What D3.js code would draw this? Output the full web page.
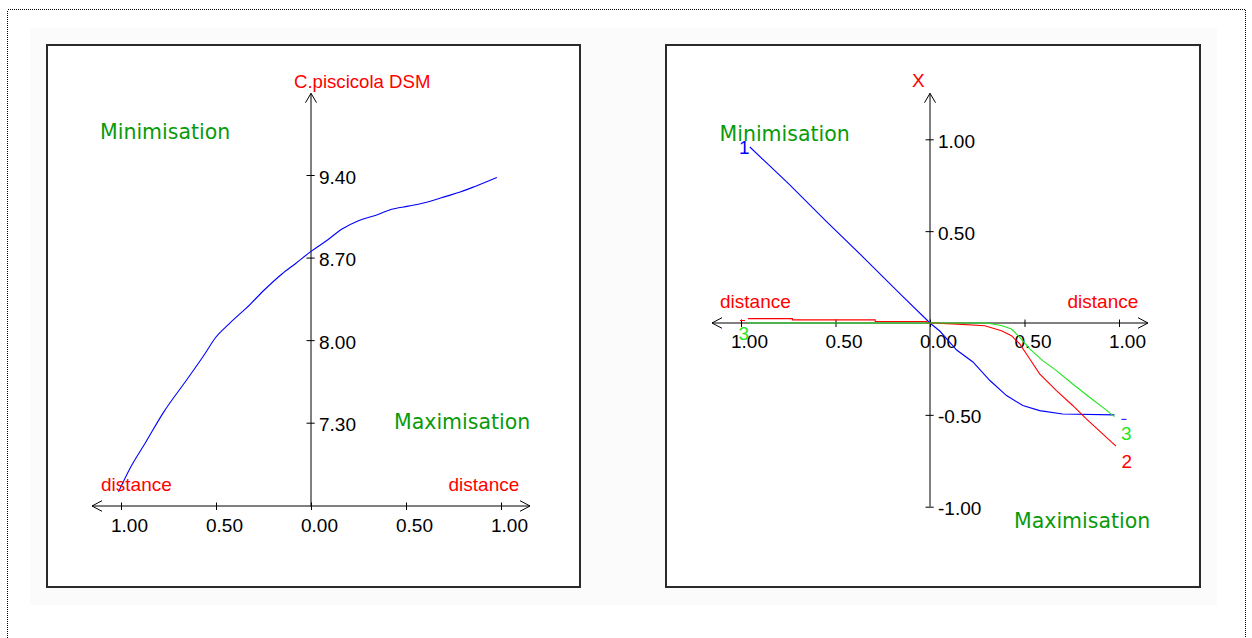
<!DOCTYPE html>
<html><head><meta charset="utf-8">
<script src="https://cdn.jsdelivr.net/npm/d3@7"></script>
<style>body{margin:0;background:#fff}svg{display:block}</style>
</head><body><svg id="c" width="1252" height="638"></svg>
<script>
// ---- data ----
const xTickValues = [-1, -0.5, 0, 0.5, 1];
const xTickLabels = ["1.00", "0.50", "0.00", "0.50", "1.00"];
const leftYTickValues = [7.30, 8.00, 8.70, 9.40];
const leftYTickLabels = ["7.30", "8.00", "8.70", "9.40"];
const rightYTickValues = [-1, -0.5, 0.5, 1];
const rightYTickLabels = ["-1.00", "-0.50", "0.50", "1.00"];

const dsmDistance = [-1.013, -0.948, -0.874, -0.773, -0.652, -0.560, -0.505, -0.431, -0.320, -0.246, -0.153, -0.079, 0.000, 0.087, 0.161, 0.253, 0.346, 0.420, 0.512, 0.604, 0.715, 0.789, 0.863, 0.978];
const dsmValue    = [6.714, 6.926, 7.123, 7.396, 7.668, 7.880, 8.016, 8.138, 8.304, 8.425, 8.561, 8.652, 8.752, 8.849, 8.940, 9.015, 9.061, 9.107, 9.136, 9.167, 9.221, 9.258, 9.303, 9.379];

const s1Distance = [-0.953, -0.75, -0.55, -0.35, -0.15, 0, 0.053, 0.141, 0.227, 0.317, 0.405, 0.491, 0.580, 0.702, 0.976];
const s1Value    = [0.958, 0.76, 0.555, 0.355, 0.15, 0, -0.045, -0.147, -0.212, -0.313, -0.395, -0.449, -0.477, -0.495, -0.50];

const s2Distance = [-0.963, -0.728, -0.728, -0.29, -0.29, -0.016, -0.016, 0, 0.121, 0.290, 0.378, 0.431, 0.475, 0.528, 0.580, 0.669, 0.755, 0.827, 0.984];
const s2Value    = [0.024, 0.024, 0.017, 0.017, 0.008, 0.008, 0, 0, -0.005, -0.015, -0.042, -0.069, -0.114, -0.196, -0.277, -0.368, -0.449, -0.522, -0.67];

const s3Distance = [-0.963, 0.298, 0.378, 0.431, 0.475, 0.528, 0.596, 0.669, 0.755, 0.844, 0.913, 0.976];
const s3Value    = [0, 0, -0.014, -0.033, -0.078, -0.141, -0.205, -0.259, -0.332, -0.404, -0.458, -0.51];

const seriesNames = ["1", "2", "3"];

// ---- drawing ----
const svg = d3.select("#c");
const NUM_FONT = "'Liberation Sans', Arial, sans-serif";
const WORD_FONT = "'DejaVu Sans', sans-serif";
const RED = "#ff0000", BLUE = "#0000ff", LIME = "#1ee61e", DKGREEN = "#0a9a0a";

svg.append("rect").attr("x", 30).attr("y", 28).attr("width", 1187).attr("height", 577).attr("fill", "#fbfbfb");
svg.append("rect").attr("x", 7.5).attr("y", 9.5).attr("width", 1238).attr("height", 700)
  .attr("fill", "none").attr("stroke", "#000").attr("stroke-dasharray", "1,1").attr("shape-rendering", "crispEdges");

function txt(g, x, y, s, o) {
  return g.append("text").attr("x", x).attr("y", y).text(s)
    .attr("font-family", o.font || NUM_FONT).attr("font-size", o.size || 19)
    .attr("fill", o.color || "#000").attr("text-anchor", o.anchor || "start");
}

function panel(p) {
  const g = svg.append("g");
  g.append("rect").attr("x", p.box[0]).attr("y", p.box[1]).attr("width", p.box[2]).attr("height", p.box[3])
    .attr("fill", "#fff").attr("stroke", "#2a2a2a").attr("stroke-width", 2);
  const x = d3.scaleLinear().domain([-1, 1]).range(p.xRange);
  const y = d3.scaleLinear().domain(p.yDomain).range(p.yRange);
  const x0 = x(0);
  const axY = p.xAxisY != null ? p.xAxisY : y(0);
  const topY = 93.3, botY = 506.7;

  const L = x(-1) - 29, R = x(1) + 29;
  g.append("line").attr("x1", L).attr("x2", R).attr("y1", axY).attr("y2", axY).attr("stroke", "#000");
  g.append("path").attr("d", `M${L + 10},${axY - 5.3}L${L},${axY}L${L + 10},${axY + 5.3}`).attr("fill", "none").attr("stroke", "#000");
  g.append("path").attr("d", `M${R - 10},${axY - 5.3}L${R},${axY}L${R - 10},${axY + 5.3}`).attr("fill", "none").attr("stroke", "#000");
  g.append("line").attr("x1", x0).attr("x2", x0).attr("y1", topY).attr("y2", botY).attr("stroke", "#000");
  g.append("path").attr("d", `M${x0 - 5.5},${topY + 9.4}L${x0},${topY}L${x0 + 5.5},${topY + 9.4}`).attr("fill", "none").attr("stroke", "#000");

  const xa = d3.axisBottom(x).tickValues(xTickValues).tickFormat((d, i) => xTickLabels[i]).tickSizeOuter(0).tickSizeInner(4);
  const gx = g.append("g").attr("transform", `translate(0,${axY})`).call(xa)
    .attr("font-family", NUM_FONT).attr("font-size", 19);
  gx.select(".domain").remove();
  gx.selectAll(".tick line").attr("y1", -3.5).attr("y2", 4).attr("stroke", "#000");
  gx.selectAll(".tick text").attr("x", -10.5).attr("y", p.xLabelDy).attr("dy", 0).attr("text-anchor", "start").attr("fill", "#000");

  const ya = d3.axisRight(y).tickValues(p.yTicks).tickFormat((d, i) => p.yLabels[i]).tickSizeOuter(0).tickSizeInner(4);
  const gy = g.append("g").attr("transform", `translate(${x0},0)`).call(ya)
    .attr("font-family", NUM_FONT).attr("font-size", 19);
  gy.select(".domain").remove();
  gy.selectAll(".tick line").attr("x1", -4.5).attr("x2", 3.7).attr("stroke", "#000");
  gy.selectAll(".tick text").attr("x", 8).attr("y", 8).attr("dy", 0).attr("text-anchor", "start").attr("fill", "#000");

  p.series.forEach(s => {
    const line = d3.line().x(d => x(d[0])).y(d => y(d[1])).curve(s.curve || d3.curveLinear);
    g.append("path").attr("d", line(d3.zip(s.xs, s.ys))).attr("fill", "none")
      .attr("stroke", s.color).attr("stroke-width", 1.1);
  });
  return { g, x, y, x0, axY };
}

// left panel
const A = panel({
  box: [47, 45, 533, 542], xRange: [121, 501], yDomain: [7.30, 9.40], yRange: [422.7, 175],
  xAxisY: 506, xLabelDy: 26, yTicks: leftYTickValues, yLabels: leftYTickLabels,
  series: [{ xs: dsmDistance, ys: dsmValue, color: BLUE, curve: d3.curveMonotoneX }]
});
txt(A.g, 294, 88.3, "C.piscicola DSM", { color: RED, size: 18.6 });
txt(A.g, 100, 139, "Minimisation", { font: WORD_FONT, size: 20.5, color: DKGREEN });
txt(A.g, 394, 428.5, "Maximisation", { font: WORD_FONT, size: 20.5, color: DKGREEN });
txt(A.g, 101, 491, "distance", { color: RED });
txt(A.g, 448.5, 491, "distance", { color: RED });

// right panel
const B = panel({
  box: [666, 45, 534, 542], xRange: [741, 1119], yDomain: [-1, 1], yRange: [506.7, 139.3],
  xAxisY: null, xLabelDy: 24.5, yTicks: rightYTickValues, yLabels: rightYTickLabels,
  series: [
    { xs: s1Distance, ys: s1Value, color: BLUE },
    { xs: s2Distance, ys: s2Value, color: RED },
    { xs: s3Distance, ys: s3Value, color: LIME }
  ]
});
txt(B.g, 918.4, 86.7, "X", { color: RED, anchor: "middle" });
txt(B.g, 719.5, 141, "Minimisation", { font: WORD_FONT, size: 20.5, color: DKGREEN });
txt(B.g, 1014, 527.7, "Maximisation", { font: WORD_FONT, size: 20.5, color: DKGREEN });
txt(B.g, 720, 308, "distance", { color: RED });
txt(B.g, 1067.5, 308, "distance", { color: RED });

// series end labels
const bx = B.x, by = B.y;
txt(B.g, bx(s1Distance[0]) - 11, by(s1Value[0]) + 7, seriesNames[0], { color: BLUE });
txt(B.g, bx(s3Distance[0]) - 9.5, by(s3Value[0]) + 17, seriesNames[2], { color: LIME });
txt(B.g, bx(s3Distance[s3Distance.length - 1]) + 6.5, by(s3Value[s3Value.length - 1]) + 23, seriesNames[2], { color: LIME });
txt(B.g, bx(s2Distance[s2Distance.length - 1]) + 5.5, by(s2Value[s2Value.length - 1]) + 22, seriesNames[1], { color: RED });
// clipped label remnants
B.g.append("line").attr("x1", bx(s2Distance[0]) - 8).attr("x2", bx(s2Distance[0]) - 3)
  .attr("y1", by(0) - 2.5).attr("y2", by(0) - 2.5).attr("stroke", RED);
B.g.append("line").attr("x1", bx(s1Distance[s1Distance.length - 1]) + 7).attr("x2", bx(s1Distance[s1Distance.length - 1]) + 12)
  .attr("y1", by(s1Value[s1Value.length - 1]) + 4.5).attr("y2", by(s1Value[s1Value.length - 1]) + 4.5).attr("stroke", BLUE);
</script></body></html>
